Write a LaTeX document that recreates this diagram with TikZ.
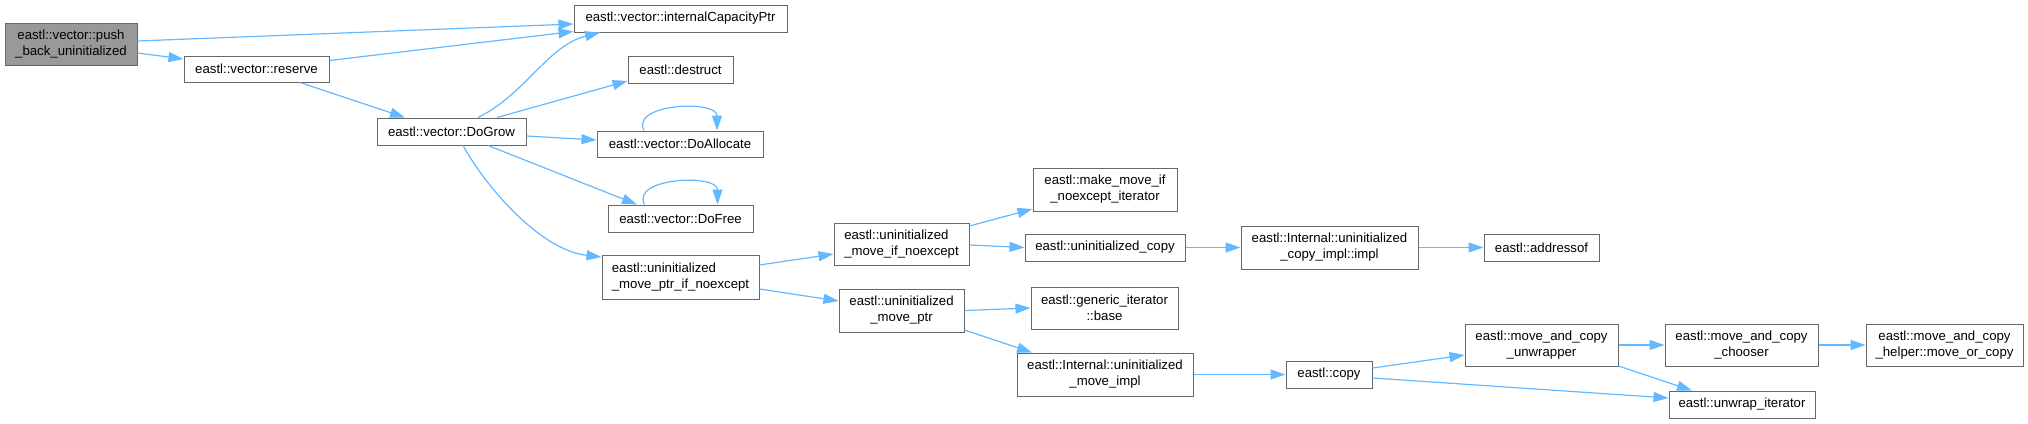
\documentclass[tikz,border=0pt]{standalone}
\usepackage{fontspec}
\setmainfont{Liberation Sans}
\usepackage{xcolor}
\definecolor{dxEdge}{HTML}{63B8FF}
\definecolor{dxBorder}{HTML}{666666}
\definecolor{dxRoot}{HTML}{999999}
\usepackage{tikz}
\usetikzlibrary{arrows.meta}

\begin{document}
\begin{tikzpicture}[
  x=1pt, y=-1pt,
  fn/.style={rectangle, draw=dxBorder, fill=white, line width=1pt, inner sep=0pt,
    align=center, text=black, font=\fontsize{13.2}{16}\selectfont},
  fnleft/.style={fn, align=left},
  root/.style={fn, fill=dxRoot},
  call/.style={-{Triangle[length=15pt,width=10pt]}, dxEdge, line width=1.2pt}
  ]
  \useasboundingbox (0,0) rectangle (2028,423);
  \node[root, minimum width=132pt, minimum height=42pt] (push) at (71,44) {eastl::vector::push\\\_back\_uninitialized};
  \node[fn, minimum width=145pt, minimum height=26pt] (reserve) at (256.5,69) {eastl::vector::reserve};
  \node[fn, minimum width=149pt, minimum height=27pt] (grow) at (451.5,131.5) {eastl::vector::DoGrow};
  \node[fn, minimum width=213pt, minimum height=27pt] (icp) at (680.5,18.5) {eastl::vector::internalCapacityPtr};
  \node[fn, minimum width=105pt, minimum height=27pt] (destruct) at (680.5,69.5) {eastl::destruct};
  \node[fn, minimum width=166pt, minimum height=26pt] (alloc) at (680,144) {eastl::vector::DoAllocate};
  \node[fn, minimum width=145pt, minimum height=27pt] (free) at (680.5,218.5) {eastl::vector::DoFree};
  \node[fnleft, minimum width=157pt, minimum height=44pt] (umpin) at (680.5,277) {eastl::uninitialized\\\_move\_ptr\_if\_noexcept};
  \node[fnleft, minimum width=135pt, minimum height=42pt] (umin) at (901.5,244) {eastl::uninitialized\\\_move\_if\_noexcept};
  \node[fn, minimum width=125pt, minimum height=43pt] (ump) at (901.5,310.5) {eastl::uninitialized\\\_move\_ptr};
  \node[fn, minimum width=144pt, minimum height=43pt] (mmit) at (1105,189.5) {eastl::make\_move\_if\\\_noexcept\_iterator};
  \node[fn, minimum width=160pt, minimum height=27pt] (ucopy) at (1105,247.5) {eastl::uninitialized\_copy};
  \node[fn, minimum width=147pt, minimum height=42pt] (gbase) at (1104.5,308) {eastl::generic\_iterator\\::base};
  \node[fn, minimum width=176pt, minimum height=43pt] (imove) at (1105,374.5) {eastl::Internal::uninitialized\\\_move\_impl};
  \node[fn, minimum width=177pt, minimum height=43pt] (cimpl) at (1329.5,247.5) {eastl::Internal::uninitialized\\\_copy\_impl::impl};
  \node[fn, minimum width=115pt, minimum height=27pt] (addr) at (1541.5,247.5) {eastl::addressof};
  \node[fn, minimum width=86pt, minimum height=27pt] (copy) at (1329,374.5) {eastl::copy};
  \node[fn, minimum width=153pt, minimum height=42pt] (unwr) at (1541.5,345) {eastl::move\_and\_copy\\\_unwrapper};
  \node[fn, minimum width=153pt, minimum height=42pt] (chooser) at (1741.5,345) {eastl::move\_and\_copy\\\_chooser};
  \node[fn, minimum width=157pt, minimum height=42pt] (helper) at (1944.5,345) {eastl::move\_and\_copy\\\_helper::move\_or\_copy};
  \node[fn, minimum width=146pt, minimum height=27pt] (uwit) at (1742,404.5) {eastl::unwrap\_iterator};

  \draw[call] ([yshift=3pt]push.east) -- ([yshift=-5.5pt]icp.west);
  \draw[call] ([yshift=-9pt]push.east) -- ([yshift=10pt]reserve.west);
  \draw[call] ([yshift=8.5pt]reserve.east) -- ([yshift=-13pt]icp.west);
  \draw[call] ([xshift=43.5pt]reserve.south) -- ([xshift=-46.5pt]grow.north);
  \draw[call] ([xshift=26.5pt]grow.north) .. controls +(47,-23) and +(-52,13) .. ([xshift=-80.5pt]icp.south);
  \draw[call] ([xshift=45.5pt]grow.north) -- ([yshift=-11.5pt]destruct.west);
  \draw[call] ([yshift=-4.5pt]grow.east) -- ([yshift=4pt]alloc.west);
  \draw[call] ([xshift=-36pt]alloc.north) .. controls +(-14,-27) and +(0,-31) .. ([xshift=37pt]alloc.north);
  \draw[call] ([xshift=36.5pt]grow.south) -- ([xshift=-43.5pt]free.north);
  \draw[call] ([xshift=-36pt]free.north) .. controls +(-14,-27) and +(0,-31) .. ([xshift=37pt]free.north);
  \draw[call] ([xshift=11.5pt]grow.south) .. controls +(22,40) and +(-62,-7) .. ([yshift=20pt]umpin.west);
  \draw[call] ([yshift=12pt]umpin.east) -- ([yshift=-10pt]umin.west);
  \draw[call] ([yshift=-12pt]umpin.east) -- ([yshift=9.5pt]ump.west);
  \draw[call] ([yshift=18pt]umin.east) -- ([yshift=-19.5pt]mmit.west);
  \draw[call] ([yshift=-1pt]umin.east) -- (ucopy.west);
  \draw[call] (ucopy.east) -- (cimpl.west);
  \draw[call] (cimpl.east) -- (addr.west);
  \draw[call] (ump.east) -- (gbase.west);
  \draw[call] ([yshift=-19.5pt]ump.east) -- ([xshift=-73pt]imove.north);
  \draw[call] (imove.east) -- (copy.west);
  \draw[call] ([yshift=6.5pt]copy.east) -- ([yshift=-10pt]unwr.west);
  \draw[call] ([yshift=-3.5pt]copy.east) -- ([yshift=6.5pt]uwit.west);
  \draw[call] (unwr.east) -- (chooser.west);
  \draw[call] (chooser.east) -- (helper.west);
  \draw[call] ([yshift=-21pt]unwr.east) -- ([xshift=-50pt]uwit.north);
\end{tikzpicture}
\end{document}
